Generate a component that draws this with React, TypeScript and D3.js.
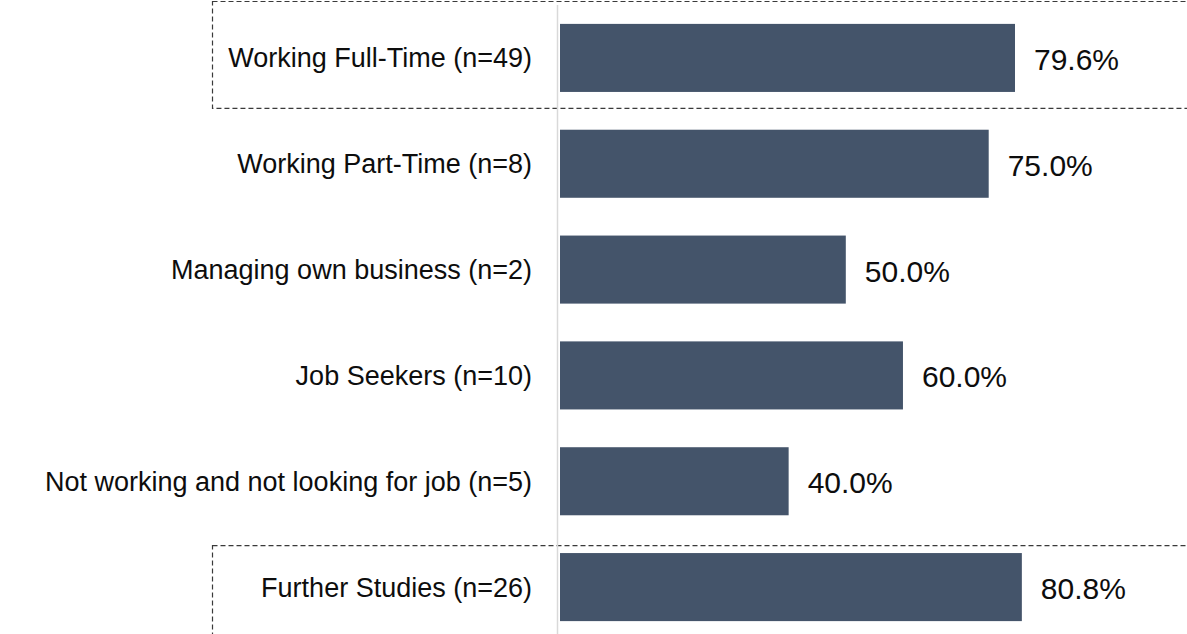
import React, { useEffect, useRef } from "react";
import * as d3 from "d3";

const categories = [
  "Working Full-Time (n=49)",
  "Working Part-Time (n=8)",
  "Managing own business (n=2)",
  "Job Seekers (n=10)",
  "Not working and not looking for job (n=5)",
  "Further Studies (n=26)",
];
const values = [79.6, 75.0, 50.0, 60.0, 40.0, 80.8];
// rows that get a dashed highlight box
const highlighted = [categories[0], categories[5]];

const App = () => {
  const svgRef = useRef<SVGSVGElement>(null);

  useEffect(() => {
    const width = 1187;
    const height = 634;
    const x0 = 560;

    const svg = d3.select(svgRef.current);
    svg.selectAll("*").remove();
    svg.attr("width", width).attr("height", height);

    const x = d3.scaleLinear().domain([0, 100]).range([x0, x0 + 571.6]);

    const y = d3
      .scaleBand()
      .domain(categories)
      .range([5, 640])
      .paddingInner(0.357)
      .paddingOuter(0.1785);

    // dashed highlight boxes
    highlighted.forEach((c) => {
      const top = c === categories[0] ? 1 : (y(c) as number) - 8;
      const bottom = c === categories[0] ? (y(c) as number) + y.bandwidth() + 16 : height + 10;
      svg
        .append("rect")
        .attr("x", 212.5)
        .attr("y", top + 0.5)
        .attr("width", width)
        .attr("height", bottom - top)
        .attr("fill", "none")
        .attr("stroke", "#3a3a3a")
        .attr("stroke-width", 1.2)
        .attr("stroke-dasharray", "5,3");
    });

    // axis line
    svg
      .append("line")
      .attr("x1", x0 - 2.5)
      .attr("x2", x0 - 2.5)
      .attr("y1", 5)
      .attr("y2", height)
      .attr("stroke", "#d9d9d9")
      .attr("stroke-width", 1.5);

    svg
      .selectAll(".bar")
      .data(values)
      .join("rect")
      .attr("class", "bar")
      .attr("x", x(0))
      .attr("y", (d, i) => y(categories[i]) as number)
      .attr("width", (d) => x(d) - x(0))
      .attr("height", y.bandwidth())
      .attr("fill", "#44546a");

    svg
      .selectAll(".cat")
      .data(categories)
      .join("text")
      .attr("class", "cat")
      .attr("x", x0 - 28)
      .attr("y", (d) => (y(d) as number) + y.bandwidth() / 2)
      .attr("dy", "0.35em")
      .attr("text-anchor", "end")
      .attr("font-family", "'Liberation Sans', Arial, sans-serif")
      .attr("font-size", 27)
      .attr("fill", "#0d0d0d")
      .text((d) => d);

    svg
      .selectAll(".val")
      .data(values)
      .join("text")
      .attr("class", "val")
      .attr("x", (d) => x(d) + 19)
      .attr("y", (d, i) => (y(categories[i]) as number) + y.bandwidth() / 2)
      .attr("dy", "0.4em")
      .attr("font-family", "'Liberation Sans', Arial, sans-serif")
      .attr("font-size", 30)
      .attr("fill", "#0d0d0d")
      .text((d) => d.toFixed(1) + "%");
  }, []);

  return (
    <div style={{ position: "absolute", left: 0, top: 0 }}>
      <svg ref={svgRef} style={{ display: "block" }}></svg>
    </div>
  );
};

export default App;
